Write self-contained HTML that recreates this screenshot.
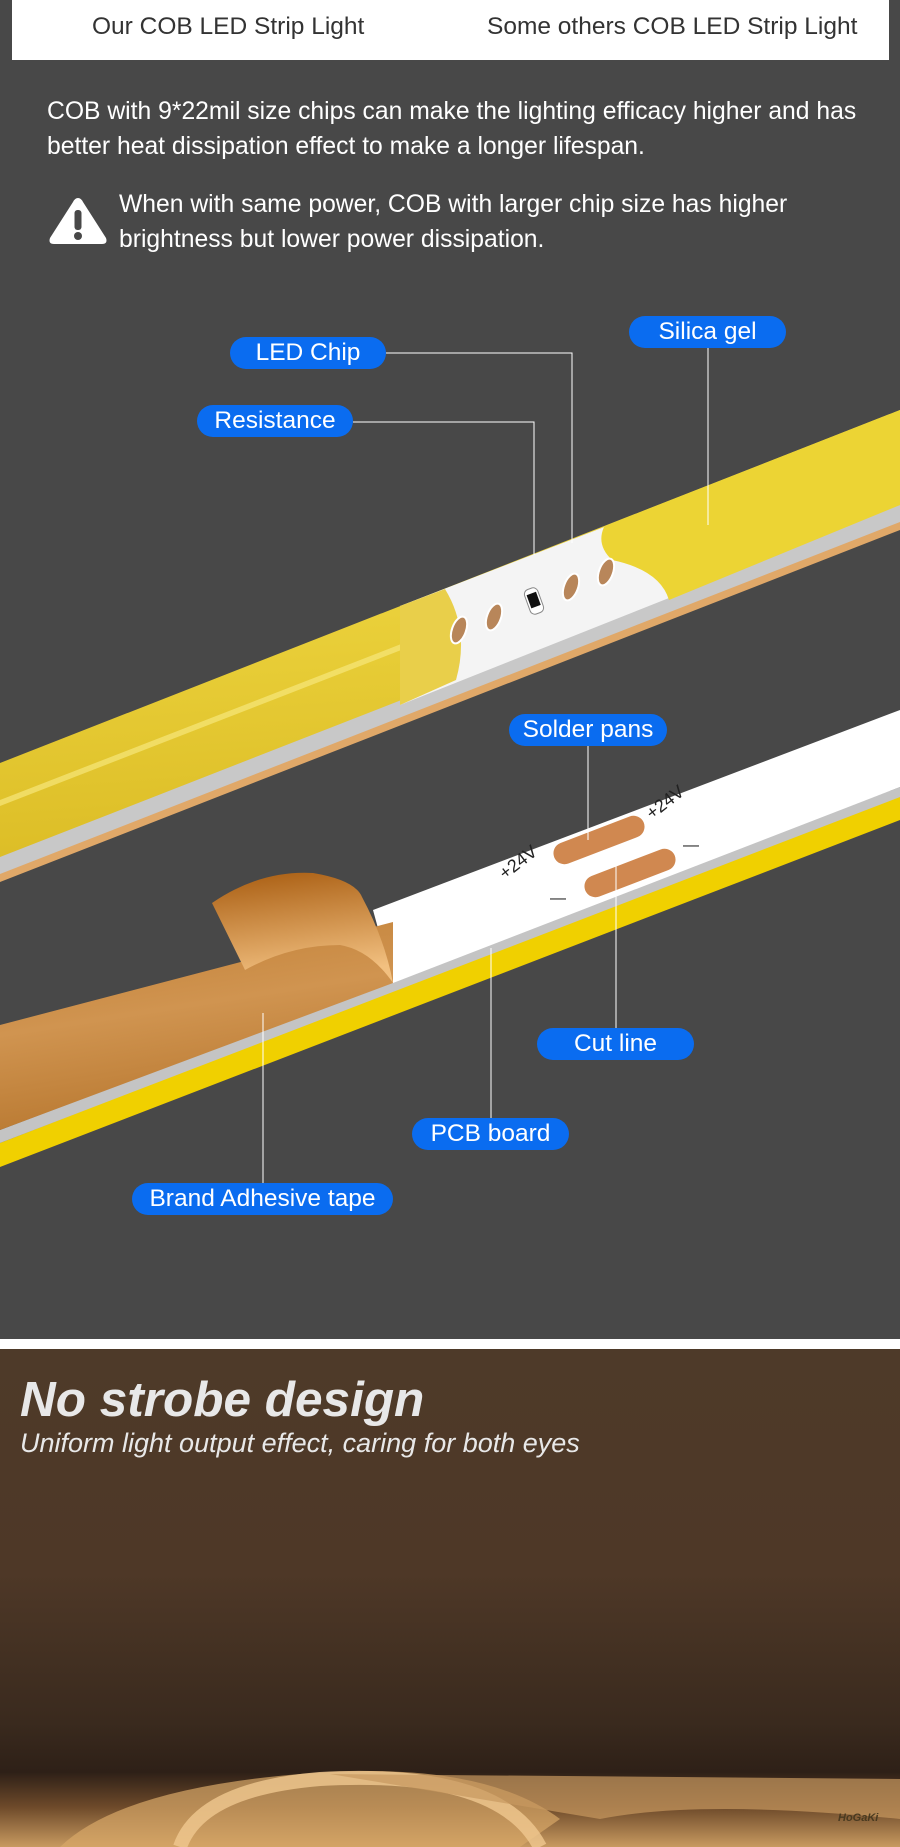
<!DOCTYPE html>
<html><head><meta charset="utf-8"><style>
*{margin:0;padding:0;box-sizing:border-box}
body{width:900px;height:1847px;overflow:hidden;background:#484848;font-family:"Liberation Sans",sans-serif;position:relative}
.t{position:absolute;white-space:nowrap}
.top{position:absolute;left:12px;top:0;width:877px;height:60px;background:#fff}
.para{color:#fff;font-size:24.7px;line-height:35px}
.pill{position:absolute;height:32px;border-radius:16px;background:#0a6cf0;color:#fff;font-size:24.5px;text-align:center;line-height:32px}
.photo{position:absolute;left:0;top:1349px;width:900px;height:498px;background:linear-gradient(180deg,#4e3a29 0%,#4e3827 45%,#3a2a1e 75%,#2e2017 85%,#6e4a2a 92%,#c89a60 100%)}
</style></head><body>
<div class="top"></div>
<div class="t" style="left:92px;top:13px;font-size:24.5px;color:#333">Our COB LED Strip Light</div>
<div class="t" style="left:487px;top:13px;font-size:24.5px;color:#333">Some others COB LED Strip Light</div>
<div class="t para" style="left:47px;top:94px">COB with 9*22mil size chips can make the lighting efficacy higher and has<br>better heat dissipation effect to make a longer lifespan.</div>
<svg class="t" style="left:47px;top:196px" width="62" height="50" viewBox="0 0 62 50"><path d="M31 2 Q34 2 36 6 L59 42 Q61 48 55 48 L7 48 Q1 48 3 42 L26 6 Q28 2 31 2Z" fill="#fff"/><rect x="27.5" y="14" width="7" height="20" rx="3" fill="#484848"/><circle cx="31" cy="40" r="4" fill="#484848"/></svg>
<div class="t para" style="left:119px;top:187px">When with same power, COB with larger chip size has higher<br>brightness but lower power dissipation.</div>

<svg class="t" style="left:0;top:0" width="900" height="1339" viewBox="0 0 900 1339">
<defs>
<linearGradient id="y1" x1="0" y1="0" x2="0.15" y2="1"><stop offset="0" stop-color="#f2de4a"/><stop offset="0.5" stop-color="#ead03a"/><stop offset="1" stop-color="#dcbd26"/></linearGradient>
<linearGradient id="tape" x1="0" y1="0" x2="0.3" y2="1"><stop offset="0" stop-color="#c07e34"/><stop offset="0.5" stop-color="#d09450"/><stop offset="1" stop-color="#b87830"/></linearGradient>
<linearGradient id="flap" x1="0" y1="0" x2="0.2" y2="1"><stop offset="0" stop-color="#a85c10"/><stop offset="1" stop-color="#f2c080"/></linearGradient>
</defs>
<polygon points="0,882 900,530 900,500 0,852" fill="#e0a868"/>
<polygon points="0,874 900,522 900,503 0,856" fill="#c8c8c8"/>
<polygon points="0,763 900,410 900,505 0,857" fill="url(#y1)"/>
<polygon points="0,800 900,450 900,456 0,806" fill="#f6e77a" opacity="0.7"/>
<polygon points="400,606 669,502 669,598 400,705" fill="#f4f4f4"/>
<path d="M604,527 Q596,545 612,560 Q660,570 669,600 L900,505 L900,410 L620,520Z" fill="#ecd434"/>
<path d="M400,606 L445,589 Q470,630 456,680 L400,705Z" fill="#e6c82c" opacity="0.85"/>
<g fill="#b8865a" stroke="#fff" stroke-width="2">
<ellipse cx="459" cy="630" rx="7" ry="14" transform="rotate(20 459 630)"/>
<ellipse cx="494" cy="617" rx="7" ry="14" transform="rotate(20 494 617)"/>
<ellipse cx="571" cy="587" rx="7" ry="14" transform="rotate(20 571 587)"/>
<ellipse cx="606" cy="572" rx="7" ry="14" transform="rotate(20 606 572)"/>
</g>
<rect x="527" y="588" width="14" height="26" rx="5" fill="#fff" stroke="#888" transform="rotate(-20 534 601)"/>
<rect x="529" y="593" width="10" height="14" fill="#111" transform="rotate(-20 534 601)"/>
<polygon points="0,1167 900,820 900,793 0,1143" fill="#f0d000"/>
<polygon points="0,1143 900,797 900,787 0,1130" fill="#c4c4c4"/>
<polygon points="373,910 900,710 900,787 393,983" fill="#fff"/>
<polygon points="0,1025 344,935 393,922 393,983 0,1130" fill="url(#tape)"/>
<path d="M212,903 Q260,870 313,873 Q355,880 362,897 Q385,940 393,983 Q370,950 340,945 Q290,945 245,970Z" fill="url(#flap)"/>
<g fill="#d08850">
<rect x="551" y="829" width="96" height="22" rx="11" transform="rotate(-21 599 840)"/>
<rect x="582" y="862" width="96" height="22" rx="11" transform="rotate(-21 630 873)"/>
</g>
<text x="0" y="0" font-size="18" fill="#222" transform="translate(505,880) rotate(-38)">+24V</text>
<text x="0" y="0" font-size="18" fill="#222" transform="translate(652,820) rotate(-38)">+24V</text>
<text x="550" y="903" font-size="16" fill="#222">—</text>
<text x="683" y="850" font-size="16" fill="#222">—</text>
<g stroke="#fff" stroke-width="1" fill="none">
<polyline points="386,353 572,353 572,543"/>
<polyline points="353,422 534,422 534,555"/>
<line x1="708" y1="348" x2="708" y2="525"/>
<line x1="588" y1="746" x2="588" y2="840"/>
<line x1="616" y1="853" x2="616" y2="1028"/>
<line x1="491" y1="948" x2="491" y2="1119"/>
<line x1="263" y1="1013" x2="263" y2="1183"/>
</g>
</svg>
<div class="pill" style="left:230px;top:337px;width:156px">LED Chip</div>
<div class="pill" style="left:629px;top:316px;width:157px">Silica gel</div>
<div class="pill" style="left:197px;top:405px;width:156px">Resistance</div>
<div class="pill" style="left:509px;top:714px;width:158px">Solder pans</div>
<div class="pill" style="left:537px;top:1028px;width:157px">Cut line</div>
<div class="pill" style="left:412px;top:1118px;width:157px">PCB board</div>
<div class="pill" style="left:132px;top:1183px;width:261px">Brand Adhesive tape</div>

<div style="position:absolute;left:0;top:1339px;width:900px;height:10px;background:#fff"></div>
<div class="photo"></div>
<svg class="t" style="left:0;top:1349px" width="900" height="498">
<path d="M60,498 Q120,440 300,425 Q480,410 560,470 L520,498Z" fill="#d8a868" opacity="0.7"/>
<path d="M180,498 Q200,440 320,430 Q500,420 540,498" stroke="#f0c890" stroke-width="14" fill="none" opacity="0.8"/>
<path d="M330,425 L900,430 L900,470 Q700,450 600,470" fill="#c89860" opacity="0.7"/>
</svg>
<div class="t" style="left:20px;top:1371px;font-size:49.5px;font-weight:bold;font-style:italic;color:#e8e8e8">No strobe design</div>
<div class="t" style="left:20px;top:1428px;font-size:27px;font-style:italic;color:#e8e8e8">Uniform light output effect, caring for both eyes</div>
<div class="t" style="left:838px;top:1812px;font-size:11px;font-style:italic;font-weight:bold;color:#4a3a20">HoGaKi</div>
</body></html>
